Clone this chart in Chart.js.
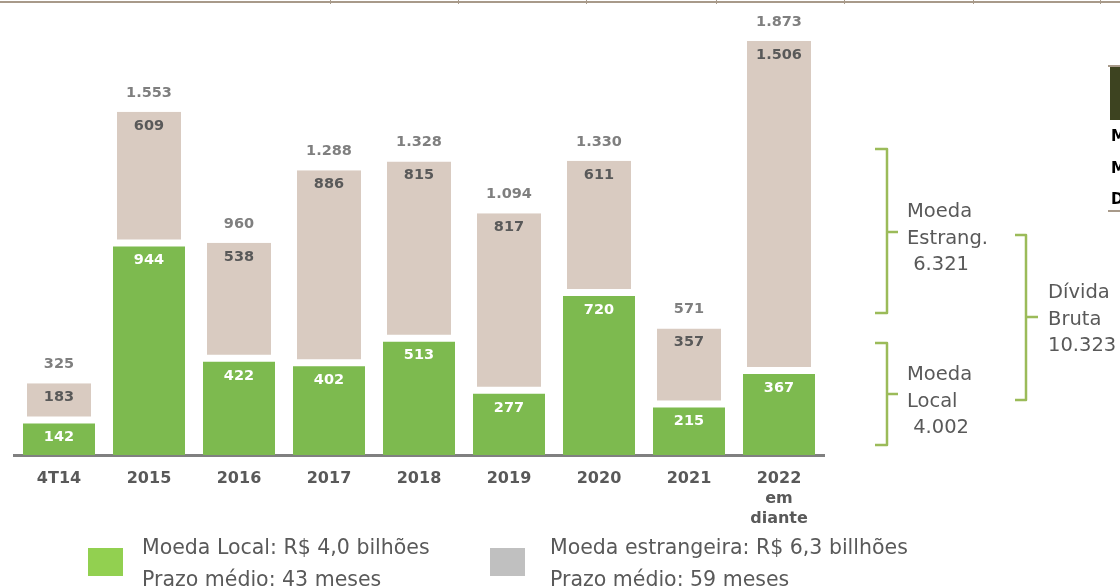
<!DOCTYPE html>
<html>
<head>
<meta charset="utf-8">
<script src="https://cdn.jsdelivr.net/npm/chart.js@4"></script>
<style>
  html, body { margin: 0; padding: 0; background: #fff; }
  body { width: 1120px; height: 588px; overflow: hidden; position: relative;
         font-family: 'DejaVu Sans', sans-serif; color: #595959; }
  #c { position: absolute; left: 0; top: 0; }
  .note { position: absolute; font-size: 19.5px; line-height: 26.5px; white-space: pre; }
  .leg { position: absolute; font-size: 20.5px; line-height: 32px; white-space: pre; }
  .sq { position: absolute; width: 35px; height: 28px; }
  .tbl { position: absolute; left: 1111px; font-size: 15px; font-weight: bold; color: #000; }
</style>
</head>
<body>
<canvas id="c" width="1120" height="588"></canvas>

<div class="note" style="left:907px; top:198px;">Moeda
Estrang.
 6.321</div>
<div class="note" style="left:907px; top:361px;">Moeda
Local
 4.002</div>
<div class="note" style="left:1048px; top:279px;">Dívida
Bruta
10.323</div>

<div class="sq" style="left:88px; top:548px; background:#92d050;"></div>
<div class="leg" style="left:142px; top:531px;">Moeda Local: R$ 4,0 bilhões
Prazo médio: 43 meses</div>
<div class="sq" style="left:490px; top:548px; background:#c0c0c0;"></div>
<div class="leg" style="left:550px; top:531px;">Moeda estrangeira: R$ 6,3 billhões
Prazo médio: 59 meses</div>

<div class="tbl" style="top:127px;">M</div>
<div class="tbl" style="top:159px;">M</div>
<div class="tbl" style="top:190px;">D</div>

<script>
// categorias e valores (R$ milhões)
const categories = ["4T14", "2015", "2016", "2017", "2018", "2019", "2020", "2021", ["2022", "em", "diante"]];
const moedaLocal = [142, 944, 422, 402, 513, 277, 720, 215, 367];
const moedaEstrangeira = [183, 609, 538, 886, 815, 817, 611, 357, 1506];
const totais = [325, 1553, 960, 1288, 1328, 1094, 1330, 571, 1873];

const FONT = "'DejaVu Sans', sans-serif";
Chart.defaults.font.family = FONT;

function fmt(v) {
  return String(v).replace(/\B(?=(\d{3})+(?!\d))/g, ".");
}

// rótulos das barras
const barLabels = {
  id: "barLabels",
  afterDatasetsDraw(chart) {
    const ctx = chart.ctx;
    const green = chart.getDatasetMeta(0).data;
    const beige = chart.getDatasetMeta(1).data;
    ctx.save();
    ctx.font = "bold 14.5px " + FONT;
    ctx.textAlign = "center";
    ctx.textBaseline = "middle";
    for (let i = 0; i < categories.length; i++) {
      ctx.fillStyle = "#ffffff";
      ctx.fillText(fmt(moedaLocal[i]), green[i].x, green[i].y + 14);
      ctx.fillStyle = "#595959";
      ctx.fillText(fmt(moedaEstrangeira[i]), beige[i].x, beige[i].y + 14);
      ctx.fillStyle = "#7f7f7f";
      ctx.fillText(fmt(totais[i]), beige[i].x, beige[i].y - 19);
    }
    ctx.restore();
  }
};

function bracket(ctx, x0, x1, yTop, yBot, yMid, xTip) {
  ctx.beginPath();
  ctx.moveTo(x0, yTop);
  ctx.lineTo(x1, yTop);
  ctx.lineTo(x1, yBot);
  ctx.lineTo(x0, yBot);
  ctx.moveTo(x1, yMid);
  ctx.lineTo(xTip, yMid);
  ctx.stroke();
}

// chaves à direita e restos da tabela no topo
const decor = {
  id: "decor",
  afterDraw(chart) {
    const ctx = chart.ctx;
    ctx.save();
    ctx.strokeStyle = "#9bbb59";
    ctx.lineWidth = 2.5;
    ctx.lineJoin = "round";
    bracket(ctx, 875, 887, 149, 313, 232, 898);
    bracket(ctx, 875, 887, 343, 445, 394, 898);
    bracket(ctx, 1015, 1026, 235, 400, 317, 1038);

    ctx.strokeStyle = "#a89a8a";
    ctx.lineWidth = 2;
    ctx.beginPath();
    ctx.moveTo(0, 2); ctx.lineTo(1120, 2);
    ctx.stroke();
    ctx.lineWidth = 1;
    [330, 458, 586, 716, 844, 973, 1100].forEach(x => {
      ctx.beginPath();
      ctx.moveTo(x + 0.5, 0); ctx.lineTo(x + 0.5, 4);
      ctx.stroke();
    });
    ctx.lineWidth = 2;
    ctx.beginPath();
    ctx.moveTo(1108, 66); ctx.lineTo(1120, 66);
    ctx.moveTo(1108, 211); ctx.lineTo(1120, 211);
    ctx.stroke();
    ctx.fillStyle = "#3d4320";
    ctx.fillRect(1110, 67, 10, 53);
    ctx.restore();
  }
};

new Chart(document.getElementById("c"), {
  type: "bar",
  data: {
    labels: categories,
    datasets: [{
      label: "Moeda Local",
      data: moedaLocal,
      backgroundColor: "#7dba4f",
      borderWidth: 0
    }, {
      label: "Moeda estrangeira",
      data: moedaEstrangeira,
      backgroundColor: "#d9cbc1",
      borderColor: "#ffffff",
      borderWidth: { top: 0, left: 4, right: 4, bottom: 7 },
      borderSkipped: false
    }]
  },
  options: {
    responsive: false,
    animation: false,
    layout: { padding: { left: 14, right: 296, top: 13, bottom: 63 } },
    datasets: { bar: { categoryPercentage: 1, barPercentage: 0.8 } },
    plugins: { legend: { display: false }, tooltip: { enabled: false } },
    scales: {
      x: {
        stacked: true,
        grid: { display: false, drawTicks: false },
        border: { color: "#808080", width: 3 },
        ticks: {
          color: "#595959",
          padding: 14,
          maxRotation: 0,
          font: { size: 16, weight: "bold", lineHeight: 1.25 }
        },
        afterFit(s) { s.height = 70; }
      },
      y: { stacked: true, display: false, min: 0, max: 2000 }
    }
  },
  plugins: [barLabels, decor]
});
</script>
</body>
</html>
